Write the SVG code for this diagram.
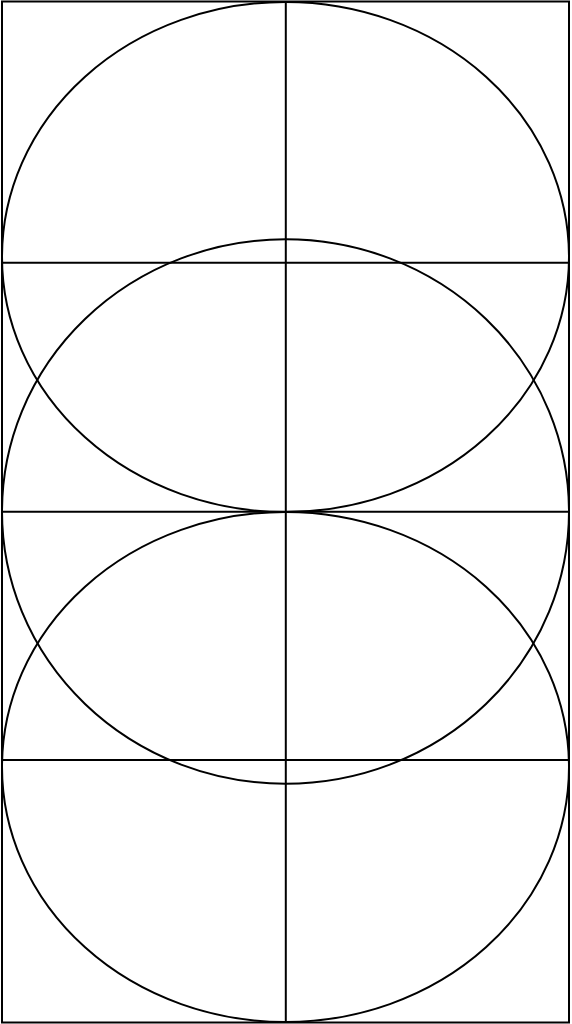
<svg xmlns="http://www.w3.org/2000/svg" width="572" height="1024" viewBox="0 0 572 1024">
<style>
.s{fill:none;stroke:#000;stroke-width:2}
</style>
<rect width="572" height="1024" fill="#fff"/>
<g id="frame"><rect class="s" x="2" y="1.5" width="567" height="1021"/></g>
<g id="lines">
<line class="s" x1="285.8" y1="1.5" x2="285.8" y2="1022.5"/>
<line class="s" x1="2" y1="262.8" x2="569" y2="262.8"/>
<line class="s" x1="2" y1="511.8" x2="569" y2="511.8"/>
<line class="s" x1="2" y1="760" x2="569" y2="760"/>
</g>
<g id="ellipses">
<ellipse class="s" cx="285.5" cy="257" rx="283.5" ry="255"/>
<ellipse class="s" cx="285.5" cy="511.5" rx="283.5" ry="272.2"/>
<ellipse class="s" cx="285.5" cy="767" rx="283.5" ry="255"/>
</g>
</svg>
